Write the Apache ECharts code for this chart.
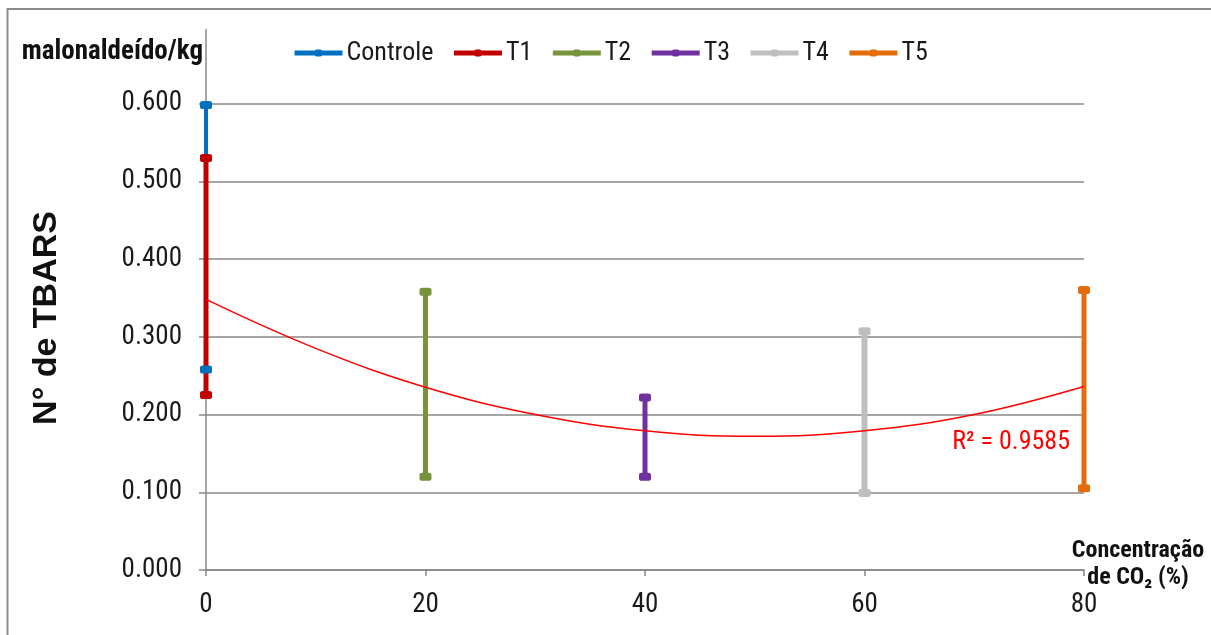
<!DOCTYPE html>
<html>
<head>
<meta charset="utf-8">
<script src="https://cdn.jsdelivr.net/npm/echarts@6/dist/echarts.min.js"></script>
<style>
  html, body { margin: 0; padding: 0; background: #ffffff; }
  #chart { width: 1211px; height: 635px; }
</style>
</head>
<body>
<div id="chart"></div>
<script>
// TBARS range (min–max) per CO2 treatment
const treatments = ['Controle', 'T1', 'T2', 'T3', 'T4', 'T5'];
const co2Levels  = [0, 0, 20, 40, 60, 80];
const tbarsMin   = [0.258, 0.225, 0.120, 0.120, 0.099, 0.105];
const tbarsMax   = [0.598, 0.530, 0.358, 0.222, 0.307, 0.360];

// Polynomial trend line
const trendX = [0, 10, 20, 30, 40, 50, 60, 70, 80];
const trendY = [0.348, 0.285, 0.235, 0.200, 0.179, 0.172, 0.179, 0.200, 0.236];
const trendR2 = 'R² = 0.9585';

// Axis ticks
const xTicks = [0, 20, 40, 60, 80];
const yTicks = [0, 0.1, 0.2, 0.3, 0.4, 0.5, 0.6];

const colors = ['#0070C0', '#C00000', '#77933C', '#7030A0', '#BFBFBF', '#E46C0A'];
const widths = [4, 5, 5, 5, 6, 5];
const NARROW = "'Roboto Condensed', 'Liberation Sans Narrow', 'Arial Narrow', sans-serif";
const WIDE = "'Liberation Sans', Arial, sans-serif";

const rangeSeries = treatments.map((name, i) => ({
  name: name,
  type: 'line',
  data: [[co2Levels[i], tbarsMin[i]], [co2Levels[i], tbarsMax[i]]],
  symbol: 'roundRect',
  symbolSize: [12, 8],
  showSymbol: true,
  color: colors[i],
  lineStyle: { color: colors[i], width: widths[i] },
  itemStyle: { color: colors[i] },
  emphasis: { disabled: true },
  animation: false
}));

const trendSeries = {
  name: 'trend',
  type: 'line',
  data: trendX.map((x, i) => [x, trendY[i]]),
  smooth: 0.4,
  symbol: 'none',
  lineStyle: { color: '#FF0000', width: 1.5 },
  z: 5,
  animation: false,
  markPoint: {
    symbol: 'circle',
    symbolSize: 0,
    data: [{ coord: [80, 0.1646] }],
    label: {
      show: true,
      position: 'left',
      distance: 14,
      formatter: trendR2,
      color: '#FF0000',
      fontFamily: NARROW,
      fontSize: 26
    }
  }
};

const chart = echarts.init(document.getElementById('chart'), null, { renderer: 'canvas' });

const gridLeft = 206, gridTop = 103.5;

chart.setOption({
  backgroundColor: '#ffffff',
  animation: false,
  textStyle: { fontFamily: NARROW },
  grid: { left: gridLeft, right: 127, top: gridTop, bottom: 65, containLabel: false, outerBoundsMode: 'none' },
  legend: {
    data: treatments,
    left: 292,
    top: 40,
    padding: 0,
    itemWidth: 48,
    itemHeight: 9,
    itemGap: 18,
    lineStyle: { width: 5 },
    textStyle: { fontFamily: NARROW, fontSize: 26, color: '#1a1a1a', padding: [0, 0, 0, -1] },
    selectedMode: false
  },
  xAxis: {
    type: 'value',
    min: xTicks[0],
    max: xTicks[xTicks.length - 1],
    interval: xTicks[1] - xTicks[0],
    axisLine: { show: true, lineStyle: { color: '#888888', width: 1.5 } },
    axisTick: { show: true, length: 6, lineStyle: { color: '#888888', width: 1.5 } },
    axisLabel: { margin: 22, fontSize: 27, fontFamily: NARROW, color: '#1a1a1a' },
    splitLine: { show: false }
  },
  yAxis: {
    type: 'value',
    min: yTicks[0],
    max: yTicks[yTicks.length - 1],
    interval: yTicks[1] - yTicks[0],
    axisLine: { show: true, lineStyle: { color: '#888888', width: 1.5 } },
    axisTick: { show: true, length: 7, lineStyle: { color: '#888888', width: 1.5 } },
    axisLabel: {
      margin: 24, fontSize: 27, fontFamily: NARROW, color: '#1a1a1a',
      formatter: v => v.toFixed(3)
    },
    splitLine: { show: true, lineStyle: { color: '#888888', width: 1.5 } }
  },
  series: rangeSeries.concat([trendSeries])
});

// Frame, axis titles and the value axis extension above the plot
const axisTop = chart.convertToPixel({ gridIndex: 0 }, [0, yTicks[yTicks.length - 1]]);
const axisEnd = chart.convertToPixel({ gridIndex: 0 }, [xTicks[xTicks.length - 1], 0]);

chart.setOption({
  graphic: [
    {
      type: 'rect',
      silent: true,
      shape: { x: 7.5, y: 9, width: 1400, height: 800 },
      style: { fill: 'none', stroke: '#8c8c8c', lineWidth: 2 }
    },
    {
      type: 'line',
      silent: true,
      shape: { x1: axisTop[0], y1: 29, x2: axisTop[0], y2: axisTop[1] },
      style: { stroke: '#888888', lineWidth: 1.5 }
    },
    {
      type: 'text',
      silent: true,
      x: 203, y: 52,
      style: {
        text: 'malonaldeído/kg',
        fontFamily: NARROW, fontWeight: 'bold', fontSize: 27,
        fill: '#111111', align: 'right', verticalAlign: 'middle'
      }
    },
    {
      type: 'text',
      silent: true,
      x: 47, y: 318,
      rotation: Math.PI / 2,
      style: {
        text: 'N° de TBARS',
        fontFamily: WIDE, fontWeight: 'bold', fontSize: 34,
        fill: '#111111', align: 'center', verticalAlign: 'middle'
      }
    },
    {
      type: 'text',
      silent: true,
      x: axisEnd[0] + 54, y: 551,
      style: {
        text: 'Concentração',
        fontFamily: NARROW, fontWeight: 'bold', fontSize: 24,
        fill: '#111111', align: 'center', verticalAlign: 'middle'
      }
    },
    {
      type: 'text',
      silent: true,
      x: axisEnd[0] + 54, y: 578,
      style: {
        text: 'de CO₂ (%)',
        fontFamily: NARROW, fontWeight: 'bold', fontSize: 24,
        fill: '#111111', align: 'center', verticalAlign: 'middle'
      }
    }
  ]
});
</script>
</body>
</html>
